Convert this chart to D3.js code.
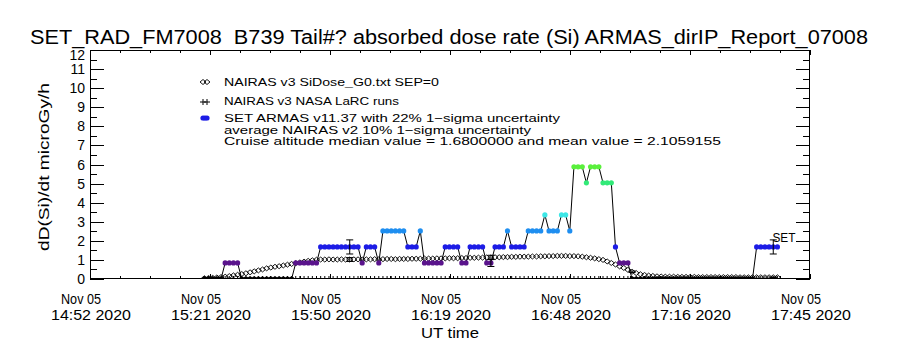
<!DOCTYPE html>
<html><head><meta charset="utf-8">
<script src="https://cdn.jsdelivr.net/npm/d3@7"></script>
<style>
body{margin:0;background:#fff}
svg{display:block}
text{font-family:"Liberation Sans",Arial,sans-serif;fill:#000;white-space:pre}
</style>
</head><body>
<svg id="c" width="900" height="350"></svg>
<script>
// ---------------- data ----------------
const titleText = "SET_RAD_FM7008  B739 Tail#? absorbed dose rate (Si) ARMAS_dirIP_Report_07008";
const yLabel = "dD(Si)/dt microGy/h";
const xLabel = "UT time";
const xDomain = ["2020-11-05T14:52:27Z", "2020-11-05T17:45:51Z"];
const xTickDates = ["2020-11-05T14:52:27Z","2020-11-05T15:21:21Z","2020-11-05T15:50:15Z","2020-11-05T16:19:09Z","2020-11-05T16:48:03Z","2020-11-05T17:16:57Z","2020-11-05T17:45:51Z"];
const xTickLine1 = ["Nov 05","Nov 05","Nov 05","Nov 05","Nov 05","Nov 05","Nov 05"];
const xTickLine2 = ["14:52 2020","15:21 2020","15:50 2020","16:19 2020","16:48 2020","17:16 2020","17:45 2020"];
const yTicks = [0,1,2,3,4,5,6,7,8,9,10,11,12];
const yMinorTicks = [0.5,1.5,2.5,3.5,4.5,5.5,6.5,7.5,8.5,9.5,10.5,11.5];

// one sample per minute starting at armasStart
const armasStart = "2020-11-05T15:20:00Z";
const armasValues = [
 0,0,0,0,0,
 0.84,0.84,0.84,0.84,
 0,0,0,0,0,0,0,0,0,0,0,0,0,
 0.84,0.84,0.84,0.84,0.84,0.84,
 1.68,1.68,1.68,1.68,1.68,1.68,1.68,1.68,1.68,1.68,
 0.84,
 1.68,1.68,1.68,
 0.84,
 2.52,2.52,2.52,2.52,2.52,2.52,
 1.68,1.68,1.68,
 2.52,
 0.84,0.84,0.84,0.84,0.84,
 1.68,1.68,1.68,1.68,
 0.84,0.84,
 1.68,1.68,1.68,1.68,
 0.84,0.84,
 1.68,1.68,1.68,
 2.52,
 1.68,1.68,1.68,1.68,
 2.52,2.52,2.52,2.52,
 3.36,
 2.52,2.52,2.52,
 3.36,3.36,
 2.52,
 5.88,5.88,5.88,
 5.04,
 5.88,5.88,5.88,
 5.04,5.04,5.04,
 1.68,
 0.84,0.84,0.84,
 0,0,0,0,0,0,0,0,0,0,0,0,0,0,0,0,0,0,0,0,0,0,0,0,0,0,0,0,0,0,
 1.68,1.68,1.68,1.68,1.68,1.68
];
const nairasValues = [
 0.04,0.05,0.06,0.08,0.10, 0.12,0.15,0.19,0.22,0.26, 0.30,0.35,0.40,0.45,0.50,
 0.56,0.60,0.64,0.67,0.71, 0.75,0.79,0.83,0.87,0.91, 0.95,0.98,1.01,
 1.02,1.02,1.03,1.02,1.02,1.03,1.02,1.02,1.03,1.03,1.02,1.03,1.03,1.04,1.03,1.04,1.05,1.05,
 1.04,1.05,1.05,1.05,1.06,1.06,1.06,1.07,1.07,1.07,1.08,1.08,
 1.08,1.09,1.09,1.09,1.10,1.10,1.11,1.11,1.12,1.12,1.13,1.13,1.14,
 1.14,1.15,1.15,1.16,1.16,1.17,1.17,1.17,1.18,1.18,1.19,1.19,1.20,1.20,1.21,
 1.21,1.21,1.20,1.20,1.19,1.17,1.14,
 1.11,1.08,1.04,1.00,
 0.92,0.84,0.76,0.66,0.58,0.48,0.38,0.31,0.25,0.21,0.18,0.16,0.14,0.13,
 0.12,0.12,0.12,0.11,0.11,0.11,0.11,0.11,0.10,0.10,0.10,0.10,0.10,0.10,
 0.10,0.10,0.10,0.10,0.09,0.09,0.09,0.09,0.09,0.09,0.09,0.09,0.09,0.09
];
const larcValues = [
 0,0,0,0,0,0,0,0,0,0,0,0,0,0,0,0,0,0,0,0,0,0,0,0,0,0,0,0,0,0,
 0,0,0,0,0,0,0,0,0,0,0,0,0,0,0,0,0,0,0,0,0,0,0,0,0,0,0,0,0,0,
 0,0,0,0,0,0,0,0,0,0,0,0,0,0,0,0,0,0,0,0,0,0,0,0,0,0,0,0,0,0,
 0,0,0,0,0,0,0,0,0,0,0,0,0,0,0,0,0,0,0,0,0,0,0,0,0,0,0,0,0,0,
 0,0,0,0,0,0,0,0,0,0,0,0,0,0,0,0,0,0,0
];
const errorIndices = [35, 69, 103, 137];
const armasUncertainty = 0.22;
const nairasUncertainty = 0.10;
const levelKeys = [0, 0.84, 1.68, 2.52, 3.36, 4.20, 5.04, 5.88];
const levelColors = ["#000000","#5a148c","#1c1ce6","#1e8ef0","#3ce6e6","#32e6a0","#32ea78","#5af03c"];
const legendLabels = [
 "NAIRAS v3 SiDose_G0.txt SEP=0",
 "NAIRAS v3 NASA LaRC runs",
 "SET ARMAS v11.37 with 22% 1\u2212sigma uncertainty"
];
const noteLines = [
 "average NAIRAS v2 10% 1\u2212sigma uncertainty",
 "Cruise altitude median value = 1.6800000 and mean value = 2.1059155"
];
const setLabel = "SET";

// ---------------- drawing ----------------
const svg = d3.select("#c");
const L = 90, R = 810, T = 50, B = 279;
const x = d3.scaleUtc().domain(xDomain.map(d => new Date(d))).range([L, R]);
const y = d3.scaleLinear().domain([0, 12]).range([B, T]);
const t0 = new Date(armasStart).getTime();
const tAt = i => new Date(t0 + i * 60000);
const colorOf = v => levelColors[levelKeys.findIndex(k => Math.abs(k - v) < 0.01)] || "#000";

svg.append("defs").append("clipPath").attr("id","plotclip")
  .append("rect").attr("x",L).attr("y",T).attr("width",R-L).attr("height",B-T);

// title
svg.append("text").attr("x",449).attr("y",44).attr("text-anchor","middle")
  .attr("font-size",20).attr("textLength",838).attr("lengthAdjust","spacingAndGlyphs").text(titleText);

// axes
const yAxisL = d3.axisLeft(y).tickValues(yTicks).tickSize(-14).tickFormat("");
const yAxisR = d3.axisRight(y).tickValues(yTicks).tickSize(-14).tickFormat("");
const yMinL = d3.axisLeft(y).tickValues(yMinorTicks).tickSize(-7).tickFormat("");
const yMinR = d3.axisRight(y).tickValues(yMinorTicks).tickSize(-7).tickFormat("");
const xTicks = xTickDates.map(d => new Date(d));
const xMinor = [];
for (let k = 0; k < xTicks.length - 1; k++) for (let j = 1; j < 4; j++)
  xMinor.push(new Date(xTicks[k].getTime() + (xTicks[k+1] - xTicks[k]) * j / 4));
const xAxisB = d3.axisBottom(x).tickValues(xTicks).tickSize(-5).tickFormat("");
const xAxisT = d3.axisTop(x).tickValues(xTicks).tickSize(-5).tickFormat("");
const xMinB = d3.axisBottom(x).tickValues(xMinor).tickSize(-3).tickFormat("");
const xMinT = d3.axisTop(x).tickValues(xMinor).tickSize(-3).tickFormat("");
function styleAxis(g){ g.selectAll("path").remove(); g.selectAll("line").attr("stroke","#000").attr("shape-rendering","crispEdges"); }
svg.append("g").attr("transform",`translate(${L},0)`).call(yAxisL).call(styleAxis);
svg.append("g").attr("transform",`translate(${R},0)`).call(yAxisR).call(styleAxis);
svg.append("g").attr("transform",`translate(${L},0)`).call(yMinL).call(styleAxis);
svg.append("g").attr("transform",`translate(${R},0)`).call(yMinR).call(styleAxis);
svg.append("g").attr("transform",`translate(0,${B})`).call(xAxisB).call(styleAxis);
svg.append("g").attr("transform",`translate(0,${T})`).call(xAxisT).call(styleAxis);
svg.append("g").attr("transform",`translate(0,${B})`).call(xMinB).call(styleAxis);
svg.append("g").attr("transform",`translate(0,${T})`).call(xMinT).call(styleAxis);
svg.append("rect").attr("x",L+0.5).attr("y",T+0.5).attr("width",R-L-1).attr("height",B-T-1)
  .attr("fill","none").attr("stroke","#000").attr("shape-rendering","crispEdges");

// y tick labels
svg.append("g").selectAll("text").data(yTicks).join("text")
  .attr("x",85).attr("y",d => Math.max(y(d) + 5, 59.5)).attr("text-anchor","end")
  .attr("font-size",14).text(d => d);
// x tick labels
const xl = svg.append("g").selectAll("g").data(xTicks).join("g");
xl.append("text").attr("x",(d,i)=>x(d)-9).attr("y",304).attr("text-anchor","middle").attr("font-size",14)
  .attr("textLength",40).attr("lengthAdjust","spacingAndGlyphs").text((d,i)=>xTickLine1[i]);
xl.append("text").attr("x",(d,i)=>x(d)+1).attr("y",320).attr("text-anchor","middle").attr("font-size",14)
  .attr("textLength",80).attr("lengthAdjust","spacingAndGlyphs").text((d,i)=>xTickLine2[i]);
svg.append("text").attr("x",450).attr("y",338).attr("text-anchor","middle").attr("font-size",14)
  .attr("textLength",58).attr("lengthAdjust","spacingAndGlyphs").text(xLabel);
svg.append("text").attr("transform","translate(49,167) rotate(-90)").attr("text-anchor","middle")
  .attr("font-size",15).attr("textLength",168).attr("lengthAdjust","spacingAndGlyphs").text(yLabel);

// plot content
const plot = svg.append("g").attr("clip-path","url(#plotclip)");

// NAIRAS diamonds
plot.append("g").selectAll("path").data(nairasValues).join("path")
  .attr("d",(v,i)=>{const cx=x(tAt(i)), cy=y(v); return `M${cx-3},${cy}L${cx},${cy-2.5}L${cx+3},${cy}L${cx},${cy+2.5}Z`;})
  .attr("fill","none").attr("stroke","#000").attr("stroke-width",0.9);

// LaRC plus
plot.append("g").selectAll("path").data(larcValues).join("path")
  .attr("d",(v,i)=>{const cx=x(tAt(i)), cy=y(v); return `M${cx-3},${cy}H${cx+3}M${cx},${cy-3}V${cy+3}`;})
  .attr("stroke","#000").attr("stroke-width",1);

// ARMAS line
plot.append("path").datum(armasValues)
  .attr("d", d3.line().x((v,i)=>x(tAt(i))).y(v=>y(v)))
  .attr("fill","none").attr("stroke","#000").attr("stroke-width",1);

// ARMAS dots
plot.append("g").selectAll("circle").data(armasValues).join("circle")
  .attr("cx",(v,i)=>x(tAt(i))).attr("cy",v=>y(v)).attr("r",2.6)
  .attr("fill",v=>colorOf(v));

// error bars
function errBar(g, cx, lo, hi){
  const a=y(lo), b=y(hi);
  g.append("path").attr("d",`M${cx},${a}V${b}M${cx-3.5},${a}H${cx+3.5}M${cx-3.5},${b}H${cx+3.5}`)
   .attr("stroke","#000").attr("stroke-width",1).attr("fill","none");
}
const eb2 = svg.append("g").attr("clip-path","url(#plotclip)");
errorIndices.forEach(i=>{
  const cx = x(tAt(i));
  const a = armasValues[i], n = nairasValues[i];
  errBar(eb2, cx, a*(1-armasUncertainty), a*(1+armasUncertainty));
  errBar(eb2, cx, n*(1-nairasUncertainty), n*(1+nairasUncertainty));
});
const last = armasValues.length - 1;
svg.append("text").attr("x",x(tAt(last))-5).attr("y",242).attr("font-size",13)
  .attr("textLength",23).attr("lengthAdjust","spacingAndGlyphs").text(setLabel);

// legend
const lg = svg.append("g");
const lx = 224, rows = [86, 105, 122];
const legendWidths = [215, 175, 336];
[203,207].forEach(cx=>{ const cy=rows[0]-4;
  lg.append("path").attr("d",`M${cx-3},${cy}L${cx},${cy-2.5}L${cx+3},${cy}L${cx},${cy+2.5}Z`).attr("fill","none").attr("stroke","#000").attr("stroke-width",0.9);});
[203,207].forEach(cx=>{ const cy=rows[1]-3;
  lg.append("path").attr("d",`M${cx-3},${cy}H${cx+3}M${cx},${cy-3}V${cy+3}`).attr("stroke","#000");});
[203,205,207].forEach(cx=>{ lg.append("circle").attr("cx",cx).attr("cy",rows[2]-4).attr("r",2.6).attr("fill",levelColors[2]);});
lg.selectAll("text.l").data(legendLabels).join("text").attr("class","l")
  .attr("x",lx).attr("y",(d,i)=>rows[i]).attr("font-size",11.5)
  .attr("textLength",(d,i)=>legendWidths[i]).attr("lengthAdjust","spacingAndGlyphs").text(d=>d);
lg.append("text").attr("x",lx).attr("y",134).attr("font-size",11.5)
  .attr("textLength",307).attr("lengthAdjust","spacingAndGlyphs").text(noteLines[0]);
lg.append("text").attr("x",lx).attr("y",145).attr("font-size",11.5)
  .attr("textLength",497).attr("lengthAdjust","spacingAndGlyphs").text(noteLines[1]);
</script>
</body></html>
